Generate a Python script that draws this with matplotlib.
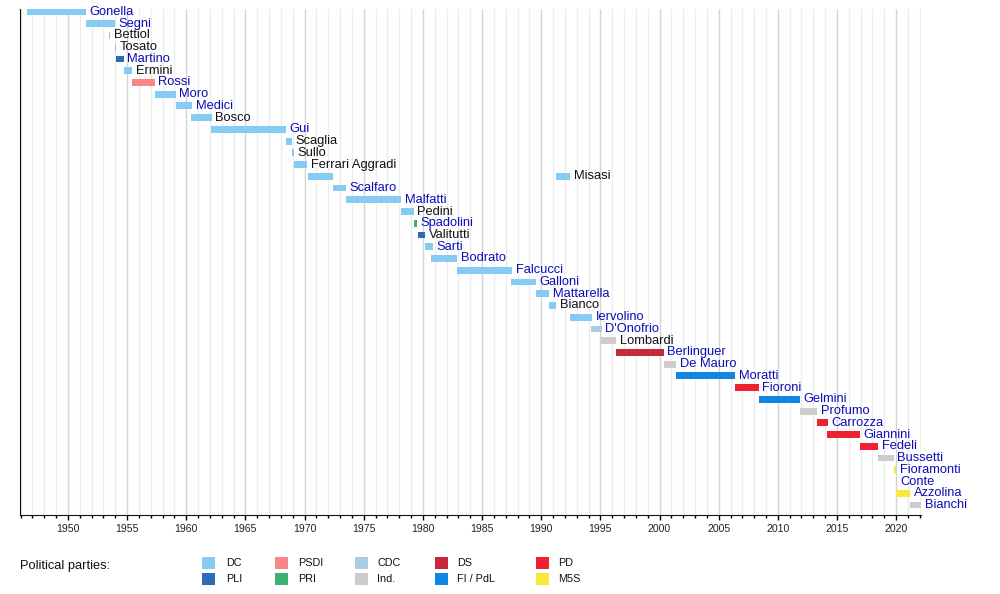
import matplotlib
matplotlib.use("Agg")
import matplotlib.pyplot as plt
from matplotlib.patches import Rectangle
from matplotlib.ticker import MultipleLocator

plt.rcParams['font.family'] = ['Liberation Sans', 'DejaVu Sans']

# ---- data ----
ministers = ["Gonella", "Segni", "Bettiol", "Tosato", "Martino", "Ermini", "Rossi",
             "Moro", "Medici", "Bosco", "Gui", "Scaglia", "Sullo", "Ferrari Aggradi",
             "Misasi", "Scalfaro", "Malfatti", "Pedini", "Spadolini", "Valitutti",
             "Sarti", "Bodrato", "Falcucci", "Galloni", "Mattarella", "Bianco",
             "Iervolino", "D'Onofrio", "Lombardi", "Berlinguer", "De Mauro", "Moratti",
             "Fioroni", "Gelmini", "Profumo", "Carrozza", "Giannini", "Fedeli",
             "Bussetti", "Fioramonti", "Conte", "Azzolina", "Bianchi"]
linked = [True, True, False, False, True, False, True,
          True, True, False, True, False, False, False,
          False, True, True, False, True, False,
          True, True, True, True, True, False,
          True, True, False, True, True, True,
          True, True, True, True, True, True,
          True, True, True, True, True]

term_minister = ["Gonella", "Segni", "Bettiol", "Tosato", "Martino", "Ermini", "Rossi",
                 "Moro", "Medici", "Bosco", "Gui", "Scaglia", "Sullo", "Ferrari Aggradi",
                 "Misasi", "Scalfaro", "Malfatti", "Pedini", "Spadolini", "Valitutti",
                 "Sarti", "Bodrato", "Falcucci", "Galloni", "Mattarella", "Bianco",
                 "Misasi", "Iervolino", "D'Onofrio", "Lombardi", "Berlinguer", "De Mauro",
                 "Moratti", "Fioroni", "Gelmini", "Profumo", "Carrozza", "Giannini",
                 "Fedeli", "Bussetti", "Fioramonti", "Conte", "Azzolina", "Bianchi"]
term_start = [1946.50, 1951.50, 1953.50, 1954.02, 1954.10, 1954.70, 1955.45,
              1957.33, 1959.10, 1960.40, 1962.10, 1968.45, 1968.90, 1969.12,
              1970.25, 1972.42, 1973.53, 1978.16, 1979.21, 1979.55,
              1980.20, 1980.65, 1982.88, 1987.46, 1989.58, 1990.66,
              1991.28, 1992.46, 1994.22, 1995.06, 1996.36, 2000.36,
              2001.43, 2006.42, 2008.38, 2011.86, 2013.33, 2014.19,
              2016.97, 2018.48, 2019.78, 2019.98, 2020.02, 2021.17]
term_end = [1951.50, 1953.98, 1953.58, 1954.10, 1954.70, 1955.45, 1957.33,
            1959.10, 1960.52, 1962.15, 1968.45, 1968.90, 1969.12, 1970.22,
            1972.42, 1973.53, 1978.18, 1979.21, 1979.50, 1980.22,
            1980.85, 1982.88, 1987.55, 1989.58, 1990.66, 1991.28,
            1992.46, 1994.32, 1995.10, 1996.36, 2000.36, 2001.43,
            2006.42, 2008.38, 2011.88, 2013.33, 2014.22, 2016.97,
            2018.48, 2019.78, 2020.02, 2020.06, 2021.17, 2022.10]
term_party = ["DC", "DC", "DC", "DC", "PLI", "DC", "PSDI",
              "DC", "DC", "DC", "DC", "DC", "DC", "DC",
              "DC", "DC", "DC", "DC", "PRI", "PLI",
              "DC", "DC", "DC", "DC", "DC", "DC",
              "DC", "DC", "CDC", "Ind.", "DS", "Ind.",
              "FI / PdL", "PD", "FI / PdL", "Ind.", "PD", "PD",
              "PD", "Ind.", "M5S", "Ind.", "M5S", "Ind."]

parties = ["DC", "PLI", "PSDI", "PRI", "CDC", "Ind.", "DS", "FI / PdL", "PD", "M5S"]
party_colors = ["#86cbf4", "#2b6cb6", "#f98585", "#3cb371", "#a9cde3",
                "#cccccc", "#c62a3a", "#0f86e3", "#ee2130", "#f9e83a"]
color_of = dict(zip(parties, party_colors))

x_min, x_max = 1945.95, 2022.1

# ---- figure ----
fig = plt.figure(figsize=(10, 5.94), dpi=100)
ax = fig.add_axes([0.020, 0.133, 0.901, 0.852])

row_of = {n: i for i, n in enumerate(ministers)}
bar_h = 0.58
for n, s, e, p in zip(term_minister, term_start, term_end, term_party):
    ax.barh(row_of[n], e - s, left=s, height=bar_h, color=color_of[p],
            edgecolor='none', zorder=3)

link_color = "#0c0cb8"
for i, n in enumerate(ministers):
    end = max(e for m, e in zip(term_minister, term_end) if m == n)
    ax.text(end + 0.3, i, n, fontsize=9.3, va='center', ha='left',
            color=link_color if linked[i] else '#111111', zorder=4)

ax.set_xlim(x_min, x_max)
ax.set_ylim(len(ministers) - 1 + 0.85, -0.26)
ax.xaxis.set_major_locator(MultipleLocator(5))
ax.xaxis.set_minor_locator(MultipleLocator(1))
ax.grid(which='major', axis='x', color='#d4d4d4', linewidth=1.0, zorder=0)
ax.grid(which='minor', axis='x', color='#ececec', linewidth=1.0, zorder=0)
ax.set_axisbelow(True)
ax.set_yticks([])
for side in ('top', 'right'):
    ax.spines[side].set_visible(False)
ax.spines['left'].set_color('#111111')
ax.spines['bottom'].set_color('#111111')
ax.tick_params(axis='x', which='major', length=3.8, width=1, labelsize=7.6,
               labelcolor='#222222', pad=3)
ax.tick_params(axis='x', which='minor', length=2.3, width=1)

# ---- legend ----
fig.text(0.020, 1 - 566 / 594, "Political parties:", fontsize=9.3, va='center',
         ha='left', color='#111111')
col_x = [202, 275, 355, 435, 536]
lab_x = [226, 298, 377, 457, 558]
row_y = [563, 579]
W, H = 1000.0, 594.0
for k, (p, c) in enumerate(zip(parties, party_colors)):
    col, r = divmod(k, 2)
    x0 = col_x[col]
    yc = row_y[r]
    fig.add_artist(Rectangle((x0 / W, 1 - (yc + 6) / H), 13 / W, 12 / H,
                             transform=fig.transFigure, facecolor=c,
                             edgecolor='none'))
    fig.text(lab_x[col] / W, 1 - yc / H, p, fontsize=7.8, va='center',
             ha='left', color='#111111')

fig.savefig("out.png", dpi=100)
